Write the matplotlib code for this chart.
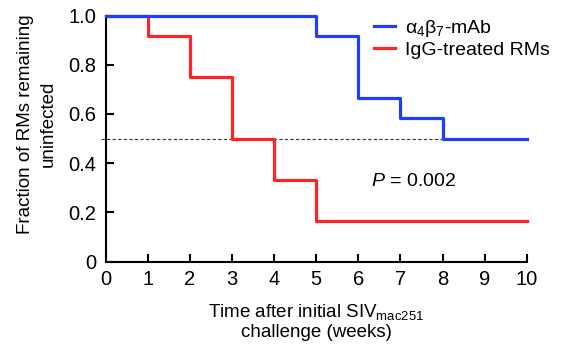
import matplotlib
matplotlib.use("Agg")
import matplotlib.pyplot as plt

plt.rcParams['font.family'] = ['Liberation Sans', 'DejaVu Sans']
plt.rcParams['mathtext.fontset'] = 'custom'
plt.rcParams['mathtext.rm'] = 'Liberation Sans'
plt.rcParams['mathtext.it'] = 'Liberation Sans:italic'

# Kaplan-Meier ступеньки (неделя, доля)
weeks_mab = [0, 5, 6, 7, 8, 10]
frac_mab = [1.0, 11 / 12, 8 / 12, 7 / 12, 6 / 12, 6 / 12]
weeks_igg = [0, 1, 2, 3, 4, 5, 10]
frac_igg = [1.0, 11 / 12, 9 / 12, 6 / 12, 4 / 12, 2 / 12, 2 / 12]

label_mab = 'α$_4$β$_7$-mAb'
label_igg = 'IgG-treated RMs'
x_ticks = list(range(0, 11))
y_ticks = [0, 0.2, 0.4, 0.6, 0.8, 1.0]
y_ticklabels = ['0', '0.2', '0.4', '0.6', '0.8', '1.0']

fs = 14.5
fs_lab = 13.5

fig = plt.figure(figsize=(5.63, 3.45), dpi=100)
ax = fig.add_axes([0.1877, 0.242, 0.748, 0.713])

ax.axhline(0.5, xmin=-0.01, xmax=1.0, color='#333333', lw=0.8,
           ls=(0, (3, 2)), clip_on=False, zorder=1)
ax.step(weeks_mab, frac_mab, where='post', color='#1f3dff', lw=2.3,
        label=label_mab, zorder=3, clip_on=False)
ax.step(weeks_igg, frac_igg, where='post', color='#ff2424', lw=2.3,
        label=label_igg, zorder=2, clip_on=False)

ax.set_xlim(0, 10)
ax.set_ylim(0, 1.0)
ax.set_xticks(x_ticks)
ax.set_yticks(y_ticks)
ax.set_yticklabels(y_ticklabels)

for side in ['top', 'right']:
    ax.spines[side].set_visible(False)
for side in ['left', 'bottom']:
    ax.spines[side].set_linewidth(1.5)

ax.tick_params(direction='in', length=6, width=1.5, labelsize=fs)
ax.tick_params(axis='x', pad=6)
ax.tick_params(axis='y', pad=7)

ax.set_xlabel('Time after initial SIV$_{\\mathrm{mac251}}$\nchallenge (weeks)',
              fontsize=fs_lab, linespacing=1.1)
ax.xaxis.set_label_coords(0.5, -0.166)
ax.xaxis.label.set_va('top')
ax.set_ylabel('Fraction of RMs remaining\nuninfected', fontsize=fs_lab,
              linespacing=1.45)
ax.yaxis.set_label_coords(-0.116, 0.56)

ax.text(6.29, 0.327, r'$P$ = 0.002', fontsize=14, va='center', ha='left')

ax.legend(loc='upper left', bbox_to_anchor=(374 / 563, 1 - 18 / 345),
          bbox_transform=fig.transFigure, frameon=False,
          fontsize=14, handlelength=1.1, handletextpad=0.5,
          labelspacing=0.1, borderaxespad=0, borderpad=0)

fig.savefig('out.png', dpi=100)
